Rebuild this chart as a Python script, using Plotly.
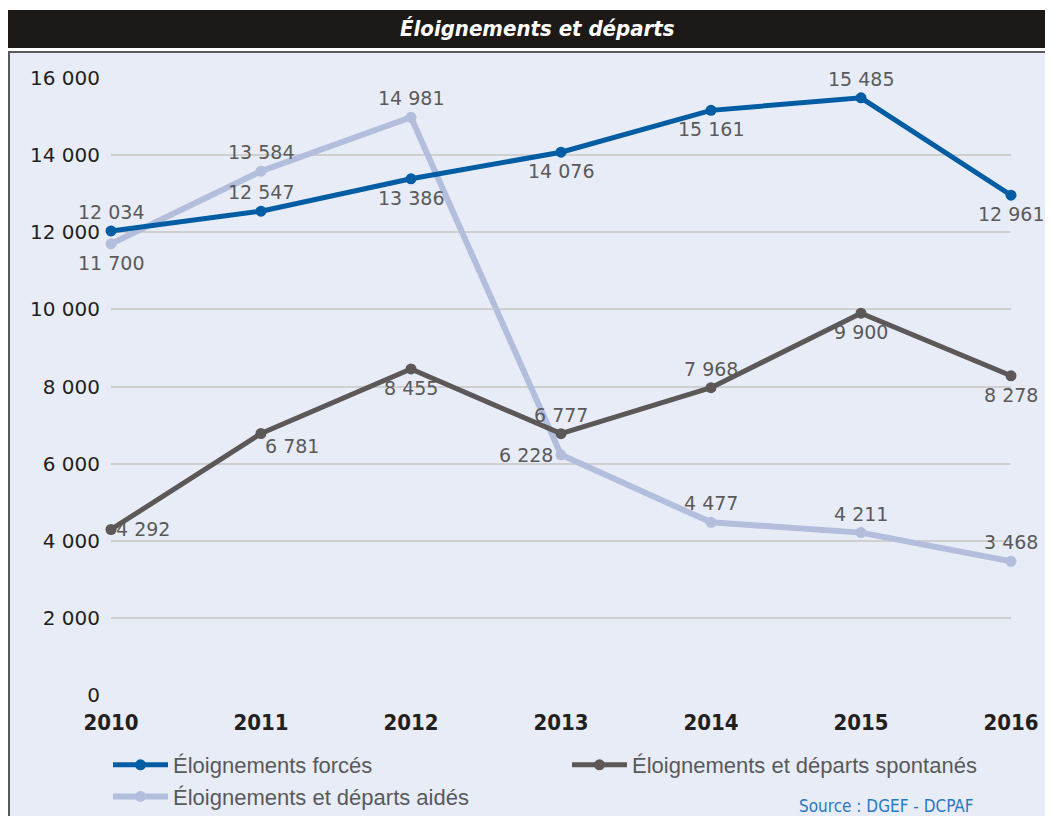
import plotly.graph_objects as go

years = [2010, 2011, 2012, 2013, 2014, 2015, 2016]
forces = [12034, 12547, 13386, 14076, 15161, 15485, 12961]
spontanes = [4292, 6781, 8455, 6777, 7968, 9900, 8278]
aides = [11700, 13584, 14981, 6228, 4477, 4211, 3468]

pos_forces = ["top", "top", "bottom", "bottom", "bottom", "top", "bottom"]
pos_spont = ["right", "bottom right", "bottom", "top", "top", "bottom", "bottom"]
pos_aides = ["bottom", "top", "top", "left", "top", "top", "top"]

y_ticks = [0, 2000, 4000, 6000, 8000, 10000, 12000, 14000, 16000]
y_tick_text = ["0", "2 000", "4 000", "6 000", "8 000", "10 000", "12 000", "14 000", "16 000"]

def fmt(v):
    return f"{v:,}".replace(",", " ")

# page coordinates (window 1053x816); the figure div sits at the body's 8px margin
OFF = 8
PW, PH = 1053, 816
W, H = PW - OFF, PH - OFF
L, R, T, B = 111, 1011, 78, 695   # plot area in page coordinates

def px(x):
    return (x - L) / (R - L)

def py(y):
    return (B - y) / (B - T)

BG = "#E8ECF7"
LABEL_FONT = dict(family="DejaVu Sans, Verdana, sans-serif", size=19, color="#5A5A5A")

# label placement styles: (xanchor, yanchor, xshift, yshift)
PLACE = {
    "top": ("center", "middle", 0, 19),
    "bottom": ("center", "middle", 0, -19),
    "right": ("left", "middle", 3, 0),
    "left": ("right", "middle", -6, 0),
    "bottom right": ("left", "middle", 2, -12),
}

fig = go.Figure()

series = [
    ("Éloignements et départs aidés", aides, pos_aides, "#B3BEDD", 6, 3),
    ("Éloignements et départs spontanés", spontanes, pos_spont, "#5B5857", 5, 2),
    ("Éloignements forcés", forces, pos_forces, "#005DA4", 5, 1),
]

annotations = []
for name, vals, poss, color, lw, rank in series:
    fig.add_trace(go.Scatter(
        x=years, y=vals, name=name, mode="lines+markers",
        line=dict(color=color, width=lw), marker=dict(color=color, size=11),
        cliponaxis=False, legendrank=rank))
    for xv, yv, p in zip(years, vals, poss):
        xa, ya, xs, ys = PLACE[p]
        annotations.append(dict(
            x=xv, y=yv, xref="x", yref="y", text=fmt(yv), showarrow=False,
            xanchor=xa, yanchor=ya, xshift=xs, yshift=ys, font=LABEL_FONT))

shapes = [
    dict(type="rect", xref="paper", yref="paper", x0=px(0), x1=px(PW + 10), y0=py(52), y1=py(0),
         fillcolor="white", line=dict(width=0), layer="below"),
    dict(type="rect", xref="paper", yref="paper", x0=px(0), x1=px(8), y0=py(PH + 10), y1=py(0),
         fillcolor="white", line=dict(width=0), layer="below"),
    dict(type="rect", xref="paper", yref="paper", x0=px(5), x1=px(PW + 10), y0=py(48), y1=py(10),
         fillcolor="#1C1917", line=dict(width=0), layer="below"),
    dict(type="line", xref="paper", yref="paper", x0=px(8), x1=px(PW + 10), y0=py(52), y1=py(52),
         line=dict(color="#5A5A5A", width=2)),
    dict(type="line", xref="paper", yref="paper", x0=px(9), x1=px(9), y0=py(52), y1=py(PH + 10),
         line=dict(color="#5A5A5A", width=2)),
]

annotations += [
    dict(text="<b><i>Éloignements et départs</i></b>", xref="paper", yref="paper",
         x=px(537), y=py(29), xanchor="center", yanchor="middle", showarrow=False,
         font=dict(family="DejaVu Sans Condensed, Liberation Sans Narrow, sans-serif",
                   size=22, color="white")),
    dict(text="Source : DGEF - DCPAF", xref="paper", yref="paper",
         x=px(976), y=py(806), xanchor="right", yanchor="middle", showarrow=False,
         font=dict(family="DejaVu Sans Condensed, Liberation Sans Narrow, sans-serif",
                   size=17, color="#2B78C2")),
]

fig.update_layout(
    width=W, height=H,
    margin=dict(l=L - OFF, r=PW - R, t=T - OFF, b=PH - B, pad=0, autoexpand=False),
    paper_bgcolor=BG, plot_bgcolor=BG,
    showlegend=True,
    legend=dict(orientation="h", x=px(108), y=py(744), xanchor="left", yanchor="top",
                bgcolor="rgba(0,0,0,0)", entrywidth=389, entrywidthmode="pixels",
                itemwidth=55, traceorder="normal",
                font=dict(family="Liberation Sans, Arial, sans-serif", size=22, color="#58595B")),
    xaxis=dict(range=[2010, 2016], tickvals=years, ticktext=[str(y) for y in years],
               showgrid=False, zeroline=False, showline=False, ticks="", automargin=False,
               tickfont=dict(family="DejaVu Sans Condensed, Liberation Sans Narrow, sans-serif",
                             size=22, color="#231F20", weight="bold"),
               ticklabelstandoff=12),
    yaxis=dict(range=[0, 16000], tickvals=y_ticks, ticktext=y_tick_text, automargin=False,
               showgrid=True, gridcolor="#CFCFCF", gridwidth=1.5, zeroline=False,
               showline=False, ticks="", ticklabelstandoff=10,
               tickfont=dict(family="DejaVu Sans, Verdana, sans-serif", size=20, color="#231F20")),
    shapes=shapes, annotations=annotations,
)

fig.write_html("out.html")
